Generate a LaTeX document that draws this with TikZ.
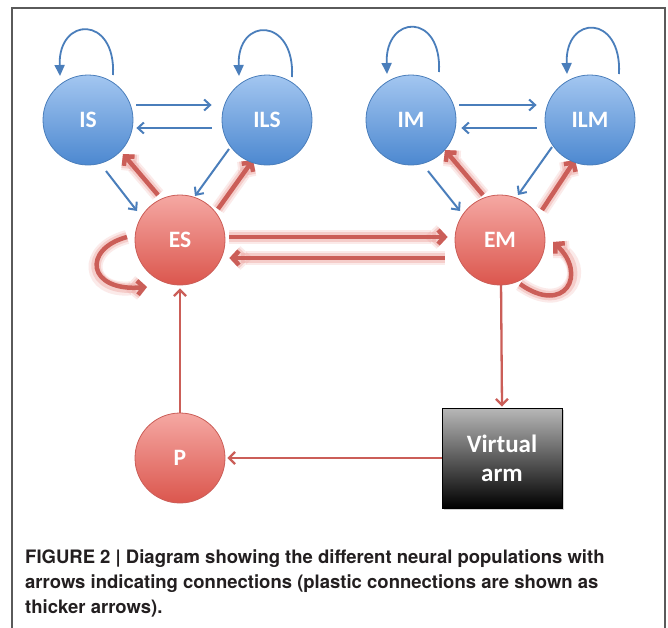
\documentclass[tikz,border=0pt]{standalone}
\usepackage{fontspec}
\usetikzlibrary{arrows.meta,shadows}
\newfontfamily\labelfont{Carlito}
\newfontfamily\captionfont{TeX Gyre Heros}
\definecolor{blueline}{HTML}{4A7EBB}
\definecolor{bluetop}{HTML}{A3C6F0}
\definecolor{bluebot}{HTML}{4C88D0}
\definecolor{redline}{HTML}{CB5E58}
\definecolor{redtop}{HTML}{F5A8A3}
\definecolor{redbot}{HTML}{DB564D}
\definecolor{redglow}{HTML}{EDA29D}
\definecolor{framegray}{HTML}{5A5A5A}
\definecolor{captext}{HTML}{231F20}
\pgfdeclarelayer{paper}
\pgfdeclarelayer{back}
\pgfsetlayers{paper,back,main}
\begin{document}
\begin{tikzpicture}[x=1pt,y=-1pt,
  pop/.style={circle, minimum size=90pt, inner sep=0pt, text=white, line width=0.8pt,
    font=\labelfont\bfseries\fontsize{23.5}{25}\selectfont},
  inhib/.style={pop, draw=blueline, top color=bluetop, bottom color=bluebot},
  excit/.style={pop, draw=redline, top color=redtop, bottom color=redbot},
  armbox/.style={rectangle, minimum width=120pt, minimum height=100pt, draw=black,
    line width=1pt, top color=black!28, bottom color=black, text=white, align=center,
    font=\labelfont\bfseries\fontsize{25}{29}\selectfont,
    drop shadow={shadow xshift=2pt, shadow yshift=-2pt, opacity=0.35}},
  thin/.style={draw=blueline, line width=2pt, -{Straight Barb[length=6pt,width=11pt]}},
  selfloop/.style={draw=blueline, line width=1.8pt, -{Triangle[length=11pt,width=10pt]}},
  feed/.style={draw=redline, line width=2.3pt, -{Straight Barb[length=6pt,width=12pt]}},
  plastic/.style={draw=redline, line width=4.5pt, -{Straight Barb[length=6.5pt,width=14pt]},
    preaction={draw=redglow, opacity=0.22, line width=14pt},
    preaction={draw=redglow, opacity=0.4, line width=9.5pt}},
  caption/.style={anchor=base west, inner sep=0pt, text=captext,
    font=\captionfont\bfseries\fontsize{18.5}{25}\selectfont}
]
\useasboundingbox (0,0) rectangle (668,627);
\begin{pgfonlayer}{paper}
\fill[white] (0,0) rectangle (668,627);
\draw[framegray, line width=1.2pt] (12,660) -- (12,8) -- (665,8) -- (665,660);
\end{pgfonlayer}

% populations
\node[inhib] (IS)  at (88,120)  {IS};
\node[inhib] (ILS) at (267,120) {ILS};
\node[excit] (ES)  at (180,240) {ES};
\node[inhib] (IM)  at (411,120) {IM};
\node[inhib] (ILM) at (590,120) {ILM};
\node[excit] (EM)  at (500,240) {EM};
\node[excit] (P)   at (180,458) {P};
\node[armbox] (arm) at (502,458) {Virtual\\arm};

\begin{pgfonlayer}{back}
% recurrent loops of the inhibitory populations
\draw[selfloop] ([shift={(25,-45)}]IS.center) .. controls +(3,-60) and +(-2,-60) .. ([shift={(-28,-44)}]IS.center);
\draw[selfloop] ([shift={(25,-43)}]ILS.center) .. controls +(3,-60) and +(-2,-60) .. ([shift={(-28,-44)}]ILS.center);
\draw[selfloop] ([shift={(28,-48)}]IM.center) .. controls +(3,-60) and +(-2,-60) .. ([shift={(-24,-46)}]IM.center);
\draw[selfloop] ([shift={(29,-46)}]ILM.center) .. controls +(3,-60) and +(-2,-60) .. ([shift={(-23,-46)}]ILM.center);

% lateral inhibitory connections
\draw[thin] ([shift={(3,-15)}]IS.east) -- ([shift={(-10,-15)}]ILS.west);
\draw[thin] ([shift={(-10,8)}]ILS.west) -- ([shift={(3,8)}]IS.east);
\draw[thin] ([shift={(3,-15)}]IM.east) -- ([shift={(-8,-15)}]ILM.west);
\draw[thin] ([shift={(-8,8)}]ILM.west) -- ([shift={(5,8)}]IM.east);

% inhibition onto the excitatory populations
\draw[thin] ([shift={(18,51)}]IS.center) -- ([shift={(-43,-29)}]ES.center);
\draw[thin] ([shift={(-38,29)}]ILS.center) -- ([shift={(15,-44)}]ES.center);
\draw[thin] ([shift={(17,51)}]IM.center) -- ([shift={(-40,-29)}]EM.center);
\draw[thin] ([shift={(-38,27)}]ILM.center) -- ([shift={(18,-45)}]EM.center);

% plastic connections
\draw[plastic] ([shift={(-22,-45)}]ES.center) -- ([shift={(35,34)}]IS.center);
\draw[plastic] ([shift={(38,-31)}]ES.center) -- ([shift={(-14,40)}]ILS.center);
\draw[plastic] ([shift={(-17,-45)}]EM.center) -- ([shift={(34,30)}]IM.center);
\draw[plastic] ([shift={(42,-30)}]EM.center) -- ([shift={(-15,40)}]ILM.center);
\draw[plastic] ([shift={(4,-3)}]ES.east) -- ([shift={(-7,-3)}]EM.west);
\draw[plastic] ([shift={(-10,18)}]EM.west) -- ([shift={(4,18)}]ES.east);
\draw[plastic] ([shift={(-53,-3)}]ES.center) .. controls +(-45,12) and +(-60,5) .. ([shift={(-33,47)}]ES.center);
\draw[plastic] ([shift={(20,44)}]EM.center) .. controls +(45,32) and +(35,32) .. ([shift={(53,2)}]EM.center);

% sensorimotor loop
\draw[feed] (P.north) -- ([yshift=-3pt]ES.south);
\draw[feed] ([shift={(1,-5)}]EM.south) -- ([yshift=1pt]arm.north);
\draw[feed] (arm.west) -- ([xshift=2pt]P.east);
\end{pgfonlayer}

% figure caption
\node[caption] (cap1) at (25,563) {FIGURE 2 | Diagram showing the different neural populations with};
\node[caption] (cap2) at (25,588) {arrows indicating connections (plastic connections are shown as};
\node[caption] (cap3) at (25,613) {thicker arrows).};
\end{tikzpicture}
\end{document}
